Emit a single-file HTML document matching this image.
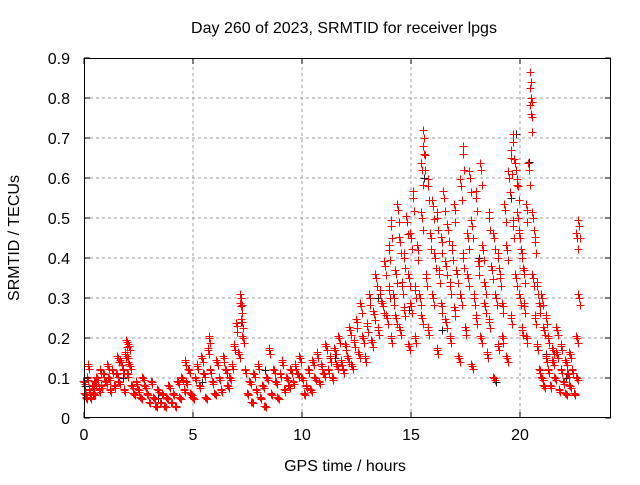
<!DOCTYPE html>
<html><head><meta charset="utf-8"><style>
body{margin:0;background:#fff;font-family:"Liberation Sans",sans-serif}
svg text{font-family:"Liberation Sans",sans-serif;font-size:16px;fill:#000}
</style></head><body>
<svg id="chart" width="640" height="480">
<rect width="640" height="480" fill="#fff"/>
<g id="grid"></g>
<g id="marks"></g>
<g id="axes"></g>
<text x="344" y="33" text-anchor="middle">Day 260 of 2023, SRMTID for receiver lpgs</text>
<text x="345" y="471" text-anchor="middle">GPS time / hours</text>
<text x="19" y="238" text-anchor="middle" transform="rotate(-90 19 238)">SRMTID / TECUs</text>
</svg>
<script>
const xTicks=[0,5,10,15,20];
const yTicks=[0,0.1,0.2,0.3,0.4,0.5,0.6,0.7,0.8,0.9];
const yTickLabels=["0","0.1","0.2","0.3","0.4","0.5","0.6","0.7","0.8","0.9"];
const redHours=[0,0.05,0.1,0.15,0.2,0.25,0.3,0.4,0.45,0.5,0.6,0.7,0.75,0.8,0.9,1.0,1.1,1.15,1.2,1.3,1.4,1.5,1.55,1.6,1.7,1.8,1.85,1.9,1.95,2.0,2.0,2.05,2.1,2.2,2.3,2.4,2.5,2.6,2.7,2.8,2.9,3.0,3.1,3.2,3.3,3.4,3.5,3.6,3.7,3.8,3.9,4.0,4.1,4.2,4.3,4.4,4.5,4.6,4.65,4.7,4.8,4.9,5.0,5.1,5.2,5.3,5.4,5.5,5.6,5.7,5.75,5.8,5.9,6.0,6.1,6.2,6.3,6.4,6.5,6.6,6.7,6.8,6.9,7.0,7.1,7.2,7.2,7.25,7.3,7.4,7.5,7.6,7.7,7.8,7.9,8.0,8.1,8.2,8.3,8.4,8.5,8.6,8.7,8.8,8.9,9.0,9.1,9.2,9.3,9.4,9.5,9.6,9.7,9.8,9.9,10.0,10.1,10.2,10.3,10.4,10.5,10.6,10.7,10.8,10.9,11.0,11.1,11.2,11.3,11.4,11.5,11.6,11.7,11.8,11.9,12.0,12.1,12.2,12.3,12.4,12.5,12.6,12.7,12.8,12.9,13.0,13.1,13.2,13.3,13.4,13.5,13.6,13.7,13.8,13.9,14.0,14.0,14.1,14.1,14.2,14.3,14.3,14.4,14.5,14.5,14.6,14.7,14.7,14.8,14.9,14.9,15.0,15.0,15.1,15.2,15.2,15.3,15.4,15.5,15.5,15.5,15.6,15.6,15.7,15.8,15.8,15.9,16.0,16.0,16.1,16.2,16.2,16.3,16.4,16.4,16.5,16.6,16.6,16.7,16.8,16.8,16.9,17.0,17.0,17.1,17.2,17.3,17.3,17.4,17.4,17.5,17.6,17.6,17.7,17.8,17.8,17.9,18.0,18.0,18.1,18.2,18.2,18.3,18.4,18.4,18.5,18.6,18.6,18.7,18.8,18.8,18.9,19.0,19.0,19.1,19.2,19.2,19.3,19.4,19.4,19.5,19.6,19.6,19.7,19.7,19.8,19.8,19.9,19.9,20.0,20.0,20.1,20.1,20.2,20.2,20.3,20.3,20.4,20.5,20.5,20.5,20.6,20.6,20.7,20.7,20.8,20.8,20.9,20.9,21.0,21.0,21.1,21.1,21.2,21.2,21.3,21.3,21.4,21.5,21.5,21.6,21.7,21.7,21.8,21.9,21.9,22.0,22.1,22.1,22.2,22.3,22.3,22.4,22.5,22.6,22.6,22.6,22.7,22.7];
const redValues=[0.09,0.06,0.05,0.1,0.13,0.07,0.05,0.08,0.06,0.09,0.1,0.07,0.12,0.08,0.11,0.09,0.13,0.1,0.07,0.12,0.08,0.11,0.15,0.09,0.14,0.12,0.07,0.16,0.19,0.15,0.11,0.18,0.13,0.08,0.06,0.09,0.07,0.05,0.1,0.08,0.06,0.04,0.09,0.05,0.03,0.07,0.04,0.06,0.03,0.05,0.08,0.04,0.06,0.03,0.09,0.05,0.1,0.07,0.14,0.09,0.12,0.06,0.05,0.1,0.13,0.08,0.15,0.11,0.05,0.17,0.2,0.12,0.09,0.06,0.14,0.1,0.07,0.15,0.12,0.08,0.1,0.13,0.18,0.23,0.16,0.3,0.28,0.24,0.2,0.12,0.06,0.09,0.04,0.11,0.07,0.13,0.05,0.08,0.03,0.1,0.17,0.06,0.12,0.09,0.05,0.11,0.14,0.07,0.1,0.08,0.12,0.09,0.13,0.11,0.15,0.1,0.06,0.08,0.12,0.07,0.14,0.1,0.16,0.09,0.13,0.11,0.18,0.12,0.15,0.1,0.17,0.13,0.2,0.14,0.12,0.18,0.15,0.22,0.13,0.19,0.24,0.16,0.28,0.2,0.15,0.23,0.3,0.19,0.26,0.35,0.22,0.31,0.28,0.38,0.25,0.32,0.42,0.2,0.48,0.3,0.25,0.36,0.52,0.22,0.44,0.33,0.27,0.4,0.49,0.18,0.35,0.45,0.28,0.55,0.32,0.2,0.42,0.3,0.62,0.25,0.5,0.7,0.66,0.35,0.58,0.22,0.45,0.53,0.3,0.4,0.17,0.5,0.36,0.28,0.44,0.55,0.24,0.38,0.47,0.2,0.33,0.42,0.27,0.52,0.36,0.15,0.3,0.58,0.66,0.4,0.22,0.45,0.35,0.6,0.13,0.48,0.3,0.25,0.55,0.38,0.2,0.62,0.42,0.28,0.33,0.16,0.5,0.24,0.37,0.1,0.45,0.3,0.18,0.4,0.35,0.2,0.28,0.52,0.15,0.42,0.6,0.25,0.65,0.48,0.69,0.35,0.62,0.5,0.58,0.3,0.45,0.22,0.4,0.28,0.36,0.52,0.2,0.62,0.8,0.84,0.76,0.5,0.35,0.25,0.44,0.18,0.33,0.12,0.28,0.1,0.3,0.08,0.22,0.15,0.25,0.12,0.2,0.08,0.17,0.14,0.1,0.22,0.16,0.07,0.12,0.18,0.09,0.14,0.06,0.11,0.16,0.08,0.12,0.06,0.1,0.2,0.45,0.48,0.3,0.49,0.44];
const blackHours=[0.05,1.8,3.4,5.4,7.2,8.3,11.5,13.5,14.9,15.6,16.4,17.4,18.1,18.9,19.6,19.8,20.4,21.2,22.1];
const blackValues=[0.08,0.1,0.05,0.09,0.24,0.12,0.15,0.3,0.27,0.6,0.22,0.66,0.4,0.09,0.55,0.71,0.64,0.16,0.1];
const X0=84,X1=611,Y0=418,Y1=58,PXH=21.8;
const xs=h=>X0+h*PXH, ys=v=>Y0-(v/0.9)*(Y0-Y1);
const NS="http://www.w3.org/2000/svg";
function mk(tag,attrs,parent){const e=document.createElementNS(NS,tag);for(const k in attrs)e.setAttribute(k,attrs[k]);parent.appendChild(e);return e;}
const grid=document.getElementById('grid'),axes=document.getElementById('axes'),marks=document.getElementById('marks');
xTicks.forEach(t=>{const x=xs(t);
 if(t>0){const g=mk('line',{x1:x,y1:Y0,x2:x,y2:Y1,stroke:'#a0a0a0','stroke-dasharray':'3,3'},grid);
 
 }
 const tl=mk('text',{x:x,y:Y0+22,'text-anchor':'middle'},axes);tl.textContent=t;
 
 
 mk('line',{x1:x,y1:Y0,x2:x,y2:Y0-6,stroke:'#000'},axes);mk('line',{x1:x,y1:Y1,x2:x,y2:Y1+6,stroke:'#000'},axes);});
yTicks.forEach((t,i)=>{const y=ys(t);
 if(i>0&&i<yTicks.length-1){const g=mk('line',{x1:X0,y1:y,x2:X1,y2:y,stroke:'#a0a0a0','stroke-dasharray':'3,3'},grid);
 
 }
 const tl=mk('text',{x:X0-14,y:y+6,'text-anchor':'end'},axes);tl.textContent=yTickLabels[i];
 
 
 mk('line',{x1:X0,y1:y,x2:X0+6,y2:y,stroke:'#000'},axes);mk('line',{x1:X1,y1:y,x2:X1-6,y2:y,stroke:'#000'},axes);});
const fr=mk('rect',{x:X0+0.5,y:Y1+0.5,width:X1-X0-1,height:Y0-Y1-1,fill:'none',stroke:'#000'},axes);


function plus(h,v,col,name){const x=Math.round(xs(h))+0.5,y=Math.round(ys(v))+0.5;
 const p=mk('path',{d:`M${x-4} ${y}H${x+4}M${x} ${y-4}V${y+4}`,stroke:col,'stroke-width':1,fill:'none'},marks);
 
 }
blackHours.forEach((h,i)=>plus(h,blackValues[i],'#202020','black-point'));
redHours.forEach((h,i)=>{plus(h,redValues[i],'#ff0000','red-point');plus(h+0.04,redValues[i]*0.94,'#ff0000','red-point');plus(h-0.03,redValues[i]*1.03,'#ff0000','red-point');});
</script>
</body></html>
